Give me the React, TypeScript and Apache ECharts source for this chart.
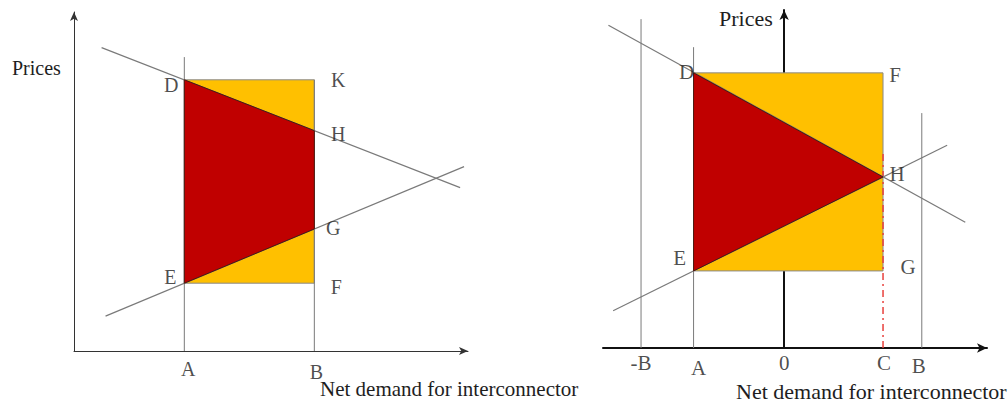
import React, { useEffect, useRef } from "react";
import * as echarts from "echarts";

// ---------- Left panel (abstract units: x 0..100, y 0..100) ----------
const leftRect = [[28, 80], [61, 80], [61, 20], [28, 20]]; // D K F E
const leftRed = [[28, 80], [61, 65], [61, 36], [28, 20]]; // D H G E
const leftUpperLine = [[7, 89.5], [98, 48.2]];
const leftLowerLine = [[8, 10.3], [99, 54.4]];
const leftVerticals = [[28, 86.7], [61, 80]]; // [x, top]
const leftPointLabels: [string, number, number][] = [
  ["D", 28, 80], ["K", 61, 80], ["H", 61, 65], ["G", 61, 36], ["E", 28, 20], ["F", 61, 20],
];
const leftAxisLabels: [string, number][] = [["A", 28], ["B", 61]];

// ---------- Right panel (abstract units: x -50..56, y 0..100) ----------
const rightRect = [[-25, 81.4], [27.3, 81.4], [27.3, 22.8], [-25, 22.8]]; // D F G E
const rightRed = [[-25, 81.4], [27.3, 50.6], [-25, 22.8]]; // D H E
const rightUpperLine = [[-48.5, 95.5], [50, 37.2]];
const rightLowerLine = [[-47.2, 11], [45, 60]];
const rightVerticals = [[-39.5, 97.3], [-25, 89], [38, 69.5]]; // [x, top]
const rightDash = [[27.3, 0], [27.3, 58.6]];
const rightPointLabels: [string, number, number][] = [
  ["D", -25, 81.4], ["F", 27.3, 81.4], ["H", 27.3, 50.6], ["E", -25, 22.8], ["G", 27.3, 22.8],
];
const rightAxisLabels: [string, number][] = [["-B", -39.5], ["A", -25], ["0", 0], ["C", 27.3], ["B", 38]];

// label pixel offsets (style, not data)
const leftOffsets: Record<string, number[]> = {
  D: [-13, 5], K: [24, 0], H: [24, 3], G: [19, -1], E: [-14, -6], F: [22, 4], A: [4, 18], B: [2, 21],
};
const rightOffsets: Record<string, number[]> = {
  D: [-7, -1], F: [12, 2], H: [14, -3], E: [-14, -13], G: [25, -4],
  "-B": [0, 15], A: [5, 20], "0": [0, 15], C: [1, 15], B: [-3, 18],
};

const FONT = "'Liberation Serif', 'Times New Roman', serif";
const TXT = "#1e1e1e";
const ORANGE = "#FFC000";
const RED = "#C00000";
const GRAY = "#7a7a7a";

function polySeries(idx: number, pts: number[][], fill: string, stroke: string, z: number) {
  return {
    type: "custom",
    xAxisIndex: idx,
    yAxisIndex: idx,
    silent: true,
    z,
    data: [[0, 0]],
    renderItem: (_p: any, api: any) => ({
      type: "polygon",
      shape: { points: pts.map((p) => api.coord(p)) },
      style: { fill, stroke, lineWidth: 1 },
    }),
  };
}

function lineSeries(idx: number, pts: number[][], color: string, width: number, z: number, type: any = "solid") {
  return {
    type: "line",
    xAxisIndex: idx,
    yAxisIndex: idx,
    silent: true,
    z,
    symbol: "none",
    data: pts,
    lineStyle: { color, width, type },
  };
}

function labelSeries(idx: number, items: { name: string; value: number[] }[], offsets: Record<string, number[]>, size: number) {
  return {
    type: "scatter",
    xAxisIndex: idx,
    yAxisIndex: idx,
    silent: true,
    z: 20,
    symbolSize: 0.1,
    itemStyle: { color: "transparent" },
    data: items.map((it) => ({
      name: it.name,
      value: it.value,
      label: {
        show: true,
        position: "inside",
        offset: offsets[it.name],
        formatter: "{b}",
        fontFamily: FONT,
        fontSize: size,
        color: TXT,
        align: "center",
        verticalAlign: "middle",
      },
    })),
  };
}

export default function App() {
  const ref = useRef<HTMLDivElement>(null);
  useEffect(() => {
    if (!ref.current) return;
    const chart = echarts.init(ref.current, undefined, { renderer: "svg" });
    const axisOff = { axisTick: { show: false }, axisLabel: { show: false }, splitLine: { show: false } };

    const series: any[] = [
      // left
      polySeries(0, leftRect, ORANGE, "#8a8a8a", 2),
      ...leftVerticals.map(([x, top]) => lineSeries(0, [[x, 0], [x, top]], GRAY, 1, 4)),
      lineSeries(0, leftUpperLine, GRAY, 1.2, 5),
      lineSeries(0, leftLowerLine, GRAY, 1.2, 5),
      polySeries(0, leftRed, RED, "#4a1a10", 6),
      labelSeries(
        0,
        [
          ...leftPointLabels.map(([n, x, y]) => ({ name: n, value: [x, y] })),
          ...leftAxisLabels.map(([n, x]) => ({ name: n, value: [x, 0] })),
        ],
        leftOffsets,
        20
      ),
      // right
      polySeries(1, rightRect, ORANGE, "#8a8a8a", 2),
      ...rightVerticals.map(([x, top]) => lineSeries(1, [[x, 0], [x, top]], GRAY, 1, 4)),
      lineSeries(1, rightDash, "#e8403c", 1.5, 4, [7, 4, 2, 4]),
      lineSeries(1, rightUpperLine, GRAY, 1.2, 5),
      lineSeries(1, rightLowerLine, GRAY, 1.2, 5),
      polySeries(1, rightRed, RED, "#4a1a10", 6),
      labelSeries(
        1,
        [
          ...rightPointLabels.map(([n, x, y]) => ({ name: n, value: [x, y] })),
          ...rightAxisLabels.map(([n, x]) => ({ name: n, value: [x, 0] })),
        ],
        rightOffsets,
        21
      ),
    ];

    chart.setOption({
      animation: false,
      backgroundColor: "#ffffff",
      grid: [
        { left: 74, top: 12, width: 394, height: 339 },
        { left: 603, top: 10, width: 384, height: 338 },
      ],
      xAxis: [
        {
          type: "value", gridIndex: 0, min: 0, max: 100, ...axisOff,
          axisLine: { show: true, symbol: ["none", "arrow"], symbolSize: [6, 9], lineStyle: { color: "#333", width: 1 } },
        },
        {
          type: "value", gridIndex: 1, min: -50, max: 56, ...axisOff,
          axisLine: { show: true, symbol: ["none", "arrow"], symbolSize: [7, 10], lineStyle: { color: "#111", width: 2 } },
        },
      ],
      yAxis: [
        {
          type: "value", gridIndex: 0, min: 0, max: 100, ...axisOff,
          axisLine: { show: true, symbol: ["none", "arrow"], symbolSize: [6, 9], lineStyle: { color: "#333", width: 1 } },
        },
        {
          type: "value", gridIndex: 1, min: 0, max: 100, ...axisOff,
          axisLine: { show: true, onZero: true, symbol: ["none", "arrow"], symbolSize: [7, 10], lineStyle: { color: "#111", width: 2 } },
        },
      ],
      graphic: [
        { type: "text", left: 12, top: 58, style: { text: "Prices", font: `20px ${FONT}`, fill: TXT } },
        { type: "text", left: 320, top: 378, style: { text: "Net demand for interconnector", font: `21px ${FONT}`, fill: TXT } },
        { type: "text", left: 719, top: 7, style: { text: "Prices", font: `22px ${FONT}`, fill: TXT } },
        { type: "text", left: 736, top: 380, style: { text: "Net demand for interconnector", font: `22px ${FONT}`, fill: TXT } },
      ],
      series,
    });
    return () => chart.dispose();
  }, []);
  return <div ref={ref} style={{ position: "fixed", left: 0, top: 0, width: 1008, height: 405 }} />;
}
